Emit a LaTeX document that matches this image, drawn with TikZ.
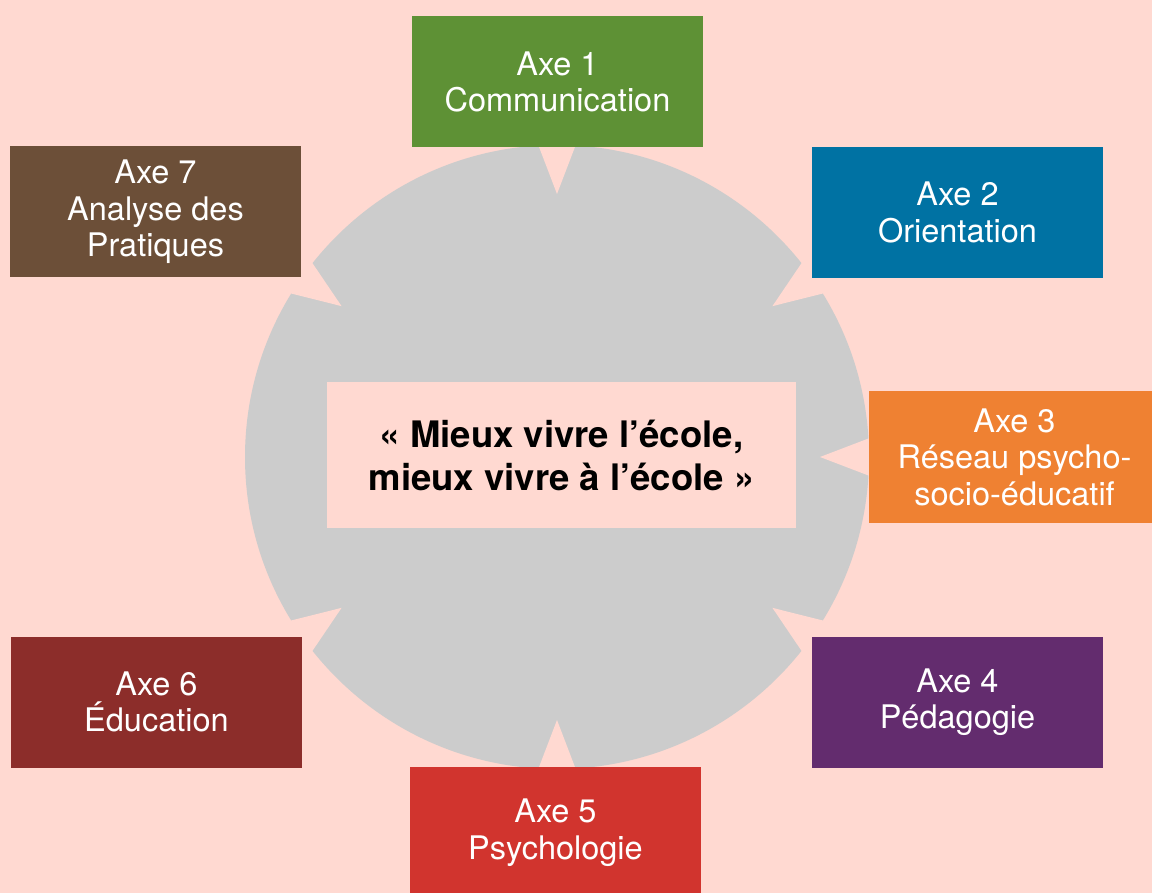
\documentclass[tikz,border=0pt]{standalone}
\usepackage{fontspec}
\setmainfont{TeX Gyre Heros}
\usetikzlibrary{calc}
\definecolor{bg}{RGB}{255,217,209}
\definecolor{ringgray}{RGB}{204,204,204}
\definecolor{cgreen}{RGB}{94,145,53}
\definecolor{cblue}{RGB}{0,114,163}
\definecolor{corange}{RGB}{239,129,50}
\definecolor{cpurple}{RGB}{99,44,110}
\definecolor{cred}{RGB}{209,52,46}
\definecolor{cdarkred}{RGB}{140,45,42}
\definecolor{cbrown}{RGB}{108,79,56}
\begin{document}
\begin{tikzpicture}[x=1pt,y=-1pt,
  axe/.style={rectangle, minimum width=291pt, minimum height=131pt, inner sep=0pt,
    text=white, align=center, font=\fontsize{32.5}{36.5}\selectfont},
  centerbox/.style={rectangle, fill=bg, minimum width=469pt, minimum height=146pt,
    inner sep=0pt, text=black, align=center, font=\bfseries\fontsize{36.5}{43}\selectfont}]
\clip (0,0) rectangle (1152,893);
\fill[bg] (0,0) rectangle (1152,893);
\coordinate (O) at (557,457);
\fill[ringgray] (O) circle[radius=312];
\foreach \a in {90,35,0,-35,-90,-145,145} {
  \coordinate (T) at ($(O)+(\a:263)$);
  \coordinate (M1) at ($(O)+(\a+3.4:312)$);
  \coordinate (M2) at ($(O)+(\a-3.4:312)$);
  \fill[bg] (T) -- ($(T)!1.3!(M1)$) -- ($(T)!1.3!(M2)$) -- cycle;
}
\node[axe, fill=cgreen]   (a1) at (557.5,82)   {Axe 1\\Communication};
\node[axe, fill=cblue]    (a2) at (957.5,212.5) {Axe 2\\Orientation};
\node[axe, fill=corange]  (a3) at (1014.5,457) {Axe 3\\Réseau psycho-\\socio-éducatif};
\node[axe, fill=cpurple]  (a4) at (957.5,702)  {Axe 4\\Pédagogie};
\node[axe, fill=cred]     (a5) at (555.5,832.5) {Axe 5\\Psychologie};
\node[axe, fill=cdarkred] (a6) at (156.5,702)  {Axe 6\\Éducation};
\node[axe, fill=cbrown]   (a7) at (155.5,212) {Axe 7\\Analyse des\\Pratiques};
\node[centerbox] (c) at (561.5,455) {« Mieux vivre l’école,\\mieux vivre à l’école »};
\end{tikzpicture}
\end{document}
